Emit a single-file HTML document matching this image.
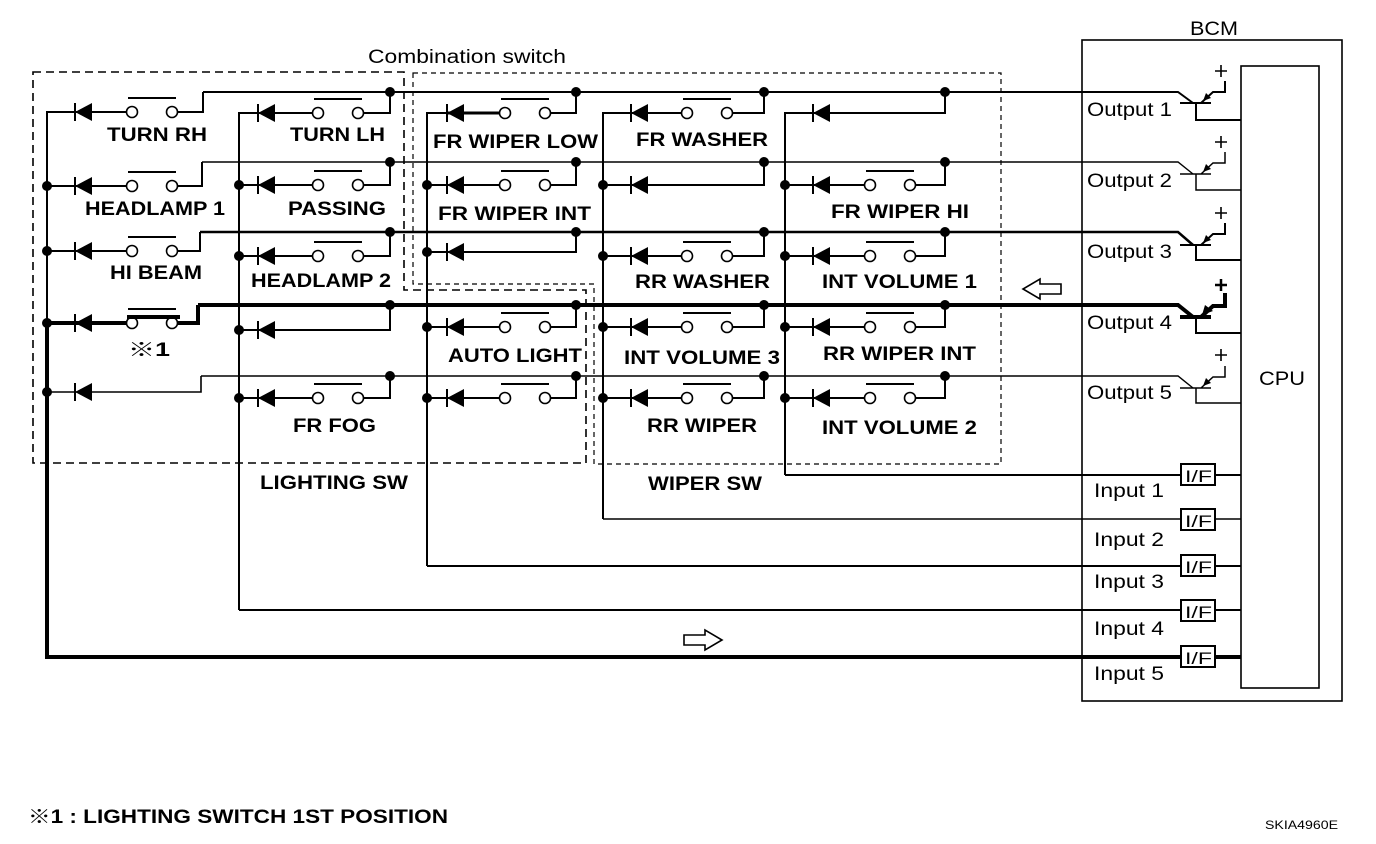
<!DOCTYPE html>
<html><head><meta charset="utf-8"><style>
html,body{margin:0;padding:0;background:#fff;}
svg{display:block;}
text{font-family:"Liberation Sans","Noto Sans CJK JP",sans-serif;fill:#000;}
.l{font-size:19px;font-weight:bold;}
.n{font-size:19px;}
</style></head><body>
<svg width="1376" height="844" viewBox="0 0 1376 844" xmlns="http://www.w3.org/2000/svg">
<defs>
<g id="d"><line x1="0" y1="-9" x2="0" y2="9" stroke="#000" stroke-width="2"/><polygon points="0,0 17,-9 17,9" fill="#000"/></g>
<g id="s"><line x1="-4" y1="-14" x2="44" y2="-14" stroke="#000" stroke-width="2"/><line x1="5" y1="0" x2="35" y2="0" stroke="#fff" stroke-width="4"/><circle cx="0" cy="0" r="5.5" fill="#fff" stroke="#000" stroke-width="1.6"/><circle cx="40" cy="0" r="5.5" fill="#fff" stroke="#000" stroke-width="1.6"/></g>
</defs>

<path d="M33,72 H404 V290 H586 V463 H33 Z" fill="none" stroke="#000" stroke-width="1.6" stroke-dasharray="8,5"/>
<path d="M413,73 H1001 V464 H594 V284 H413 Z" fill="none" stroke="#000" stroke-width="1.2" stroke-dasharray="5,4"/>

<rect x="1082" y="40" width="260" height="661" fill="none" stroke="#000" stroke-width="1.6"/>
<rect x="1241" y="66" width="78" height="622" fill="none" stroke="#000" stroke-width="1.6"/>

<g fill="none" stroke="#000" stroke-linejoin="miter">
<path d="M203,92 H1178 L1193,103" stroke-width="2"/>
<path d="M202,162 H1178 L1193,174" stroke-width="1.4"/>
<path d="M200,232 H1178 L1193,245" stroke-width="2.5"/>
<path d="M198,305 H1178 L1193,317" stroke-width="4"/>
<path d="M201,376 H1178 L1193,388" stroke-width="1.4"/>

<path d="M47,323 V112 H127 M177,112 H203 V92" stroke-width="2"/>
<path d="M47,186 H127 M177,186 H202 V162" stroke-width="2"/>
<path d="M47,251 H127 M177,251 H200 V232" stroke-width="2"/>
<path d="M47,323 H127 M177,323 H198 V305" stroke-width="4"/>
<path d="M47,392 H201 V376" stroke-width="1.6"/>
<path d="M47,323 V657 H1181" stroke-width="4"/>

<path d="M239,610 V113 H313 M363,113 H390 V92" stroke-width="2"/>
<path d="M239,185 H313 M363,185 H390 V162" stroke-width="2"/>
<path d="M239,256 H313 M363,256 H390 V232" stroke-width="2"/>
<path d="M239,330 H390 V305" stroke-width="2"/>
<path d="M239,398 H313 M363,398 H390 V376" stroke-width="2"/>
<path d="M239,610 H1181" stroke-width="2"/>

<path d="M427,566 V113 H500 M548,113 H576 V92" stroke-width="2"/>
<path d="M447,113 H500" stroke-width="3"/>
<path d="M427,185 H500 M548,185 H576 V162" stroke-width="2"/>
<path d="M427,252 H576 V232" stroke-width="2"/>
<path d="M427,327 H500 M548,327 H576 V305" stroke-width="2"/>
<path d="M427,398 H500 M548,398 H576 V376" stroke-width="2"/>
<path d="M427,566 H1181" stroke-width="2"/>

<path d="M603,519 V113 H682 M732,113 H764 V92" stroke-width="2"/>
<path d="M603,185 H764 V162" stroke-width="2"/>
<path d="M603,256 H682 M732,256 H764 V232" stroke-width="2"/>
<path d="M603,327 H682 M732,327 H764 V305" stroke-width="2"/>
<path d="M603,398 H682 M732,398 H764 V376" stroke-width="2"/>
<path d="M603,519 H1181" stroke-width="1.4"/>

<path d="M785,475 V113 H945 V92" stroke-width="2"/>
<path d="M785,185 H865 M915,185 H945 V162" stroke-width="2"/>
<path d="M785,256 H865 M915,256 H945 V232" stroke-width="2"/>
<path d="M785,327 H865 M915,327 H945 V305" stroke-width="2"/>
<path d="M785,398 H865 M915,398 H945 V376" stroke-width="2"/>
<path d="M785,475 H1181" stroke-width="2"/>

<g stroke-width="2">
<path d="M1180,103 H1211 M1196,103 V120 H1241 M1201,103 L1213,92 H1225 V81"/>
<path d="M1180,174 H1211 M1196,174 V190 H1241 M1201,174 L1213,163 H1225 V152" stroke-width="1.5"/>
<path d="M1180,245 H1211 M1196,245 V260 H1241 M1201,245 L1213,234 H1225 V223"/>
<path d="M1180,317 H1211 M1201,317 L1213,306 H1225 V293" stroke-width="4"/>
<path d="M1196,317 V333 H1241"/>
<path d="M1180,388 H1211 M1196,388 V403 H1241 M1201,388 L1213,377 H1225 V366" stroke-width="1.5"/>
</g>
<g stroke-width="1.6">
<path d="M1221,65 V77 M1215,71 H1227"/>
<path d="M1221,136 V148 M1215,142 H1227"/>
<path d="M1221,207 V219 M1215,213 H1227"/>
<path d="M1221,279 V291 M1215,285 H1227" stroke-width="2.5"/>
<path d="M1221,349 V361 M1215,355 H1227"/>
</g>

<g stroke-width="2">
<rect x="1181" y="464" width="34" height="21"/><path d="M1215,475 H1241"/>
<rect x="1181" y="509" width="34" height="21"/><path d="M1215,519 H1241" stroke-width="1.4"/>
<rect x="1181" y="555" width="34" height="21"/><path d="M1215,566 H1241"/>
<rect x="1181" y="600" width="34" height="21"/><path d="M1215,610 H1241"/>
<rect x="1181" y="646" width="34" height="21"/><path d="M1215,657 H1241" stroke-width="4"/>
</g>

<path d="M1061,284 H1040 V279 L1023,289 L1040,299 V294 H1061 Z" stroke-width="1.6" fill="#fff"/>
<path d="M684,635 H705 V630 L722,640 L705,650 V645 H684 Z" stroke-width="1.6" fill="#fff"/>
</g>

<g fill="#000">
<polygon points="1203,101 1206,93 1211,98"/>
<polygon points="1203,172 1206,164 1211,169"/>
<polygon points="1203,243 1206,235 1211,240"/>
<polygon points="1202,315 1205,305 1213,311"/>
<polygon points="1203,386 1206,378 1211,383"/>
</g>

<use href="#d" x="75" y="112"/><use href="#d" x="75" y="186"/><use href="#d" x="75" y="251"/><use href="#d" x="75" y="323"/><use href="#d" x="75" y="392"/>
<use href="#d" x="258" y="113"/><use href="#d" x="258" y="185"/><use href="#d" x="258" y="256"/><use href="#d" x="258" y="330"/><use href="#d" x="258" y="398"/>
<use href="#d" x="447" y="113"/><use href="#d" x="447" y="185"/><use href="#d" x="447" y="252"/><use href="#d" x="447" y="327"/><use href="#d" x="447" y="398"/>
<use href="#d" x="631" y="113"/><use href="#d" x="631" y="185"/><use href="#d" x="631" y="256"/><use href="#d" x="631" y="327"/><use href="#d" x="631" y="398"/>
<use href="#d" x="813" y="113"/><use href="#d" x="813" y="185"/><use href="#d" x="813" y="256"/><use href="#d" x="813" y="327"/><use href="#d" x="813" y="398"/>

<use href="#s" x="132" y="112"/><use href="#s" x="132" y="186"/><use href="#s" x="132" y="251"/><use href="#s" x="132" y="323"/>
<line x1="127" y1="317" x2="180" y2="317" stroke="#000" stroke-width="4"/>
<use href="#s" x="318" y="113"/><use href="#s" x="318" y="185"/><use href="#s" x="318" y="256"/><use href="#s" x="318" y="398"/>
<use href="#s" x="505" y="113"/><use href="#s" x="505" y="185"/><use href="#s" x="505" y="327"/><use href="#s" x="505" y="398"/>
<use href="#s" x="687" y="113"/><use href="#s" x="687" y="256"/><use href="#s" x="687" y="327"/><use href="#s" x="687" y="398"/>
<use href="#s" x="870" y="185"/><use href="#s" x="870" y="256"/><use href="#s" x="870" y="327"/><use href="#s" x="870" y="398"/>

<g fill="#000">
<circle cx="47" cy="186" r="5"/><circle cx="47" cy="251" r="5"/><circle cx="47" cy="323" r="5"/><circle cx="47" cy="392" r="5"/>
<circle cx="239" cy="185" r="5"/><circle cx="239" cy="256" r="5"/><circle cx="239" cy="330" r="5"/><circle cx="239" cy="398" r="5"/>
<circle cx="427" cy="185" r="5"/><circle cx="427" cy="252" r="5"/><circle cx="427" cy="327" r="5"/><circle cx="427" cy="398" r="5"/>
<circle cx="603" cy="185" r="5"/><circle cx="603" cy="256" r="5"/><circle cx="603" cy="327" r="5"/><circle cx="603" cy="398" r="5"/>
<circle cx="785" cy="185" r="5"/><circle cx="785" cy="256" r="5"/><circle cx="785" cy="327" r="5"/><circle cx="785" cy="398" r="5"/>
<circle cx="390" cy="92" r="5"/><circle cx="576" cy="92" r="5"/><circle cx="764" cy="92" r="5"/><circle cx="945" cy="92" r="5"/>
<circle cx="390" cy="162" r="5"/><circle cx="576" cy="162" r="5"/><circle cx="764" cy="162" r="5"/><circle cx="945" cy="162" r="5"/>
<circle cx="390" cy="232" r="5"/><circle cx="576" cy="232" r="5"/><circle cx="764" cy="232" r="5"/><circle cx="945" cy="232" r="5"/>
<circle cx="390" cy="305" r="5"/><circle cx="576" cy="305" r="5"/><circle cx="764" cy="305" r="5"/><circle cx="945" cy="305" r="5"/>
<circle cx="390" cy="376" r="5"/><circle cx="576" cy="376" r="5"/><circle cx="764" cy="376" r="5"/><circle cx="945" cy="376" r="5"/>
</g>

<g class="l">
<text x="107" y="141" textLength="100" lengthAdjust="spacingAndGlyphs">TURN RH</text>
<text x="290" y="141" textLength="95" lengthAdjust="spacingAndGlyphs">TURN LH</text>
<text x="85" y="215" textLength="140" lengthAdjust="spacingAndGlyphs">HEADLAMP 1</text>
<text x="288" y="215" textLength="98" lengthAdjust="spacingAndGlyphs">PASSING</text>
<text x="110" y="279" textLength="92" lengthAdjust="spacingAndGlyphs">HI BEAM</text>
<text x="251" y="287" textLength="140" lengthAdjust="spacingAndGlyphs">HEADLAMP 2</text>
<text x="128" y="356" textLength="42" lengthAdjust="spacingAndGlyphs">※1</text>
<text x="293" y="432" textLength="83" lengthAdjust="spacingAndGlyphs">FR FOG</text>
<text x="433" y="148" textLength="165" lengthAdjust="spacingAndGlyphs">FR WIPER LOW</text>
<text x="438" y="220" textLength="153" lengthAdjust="spacingAndGlyphs">FR WIPER INT</text>
<text x="448" y="362" textLength="134" lengthAdjust="spacingAndGlyphs">AUTO LIGHT</text>
<text x="636" y="146" textLength="132" lengthAdjust="spacingAndGlyphs">FR WASHER</text>
<text x="635" y="288" textLength="135" lengthAdjust="spacingAndGlyphs">RR WASHER</text>
<text x="624" y="364" textLength="156" lengthAdjust="spacingAndGlyphs">INT VOLUME 3</text>
<text x="647" y="432" textLength="110" lengthAdjust="spacingAndGlyphs">RR WIPER</text>
<text x="831" y="218" textLength="138" lengthAdjust="spacingAndGlyphs">FR WIPER HI</text>
<text x="822" y="288" textLength="155" lengthAdjust="spacingAndGlyphs">INT VOLUME 1</text>
<text x="823" y="360" textLength="153" lengthAdjust="spacingAndGlyphs">RR WIPER INT</text>
<text x="822" y="434" textLength="155" lengthAdjust="spacingAndGlyphs">INT VOLUME 2</text>
<text x="260" y="489" textLength="148" lengthAdjust="spacingAndGlyphs">LIGHTING SW</text>
<text x="648" y="490" textLength="114" lengthAdjust="spacingAndGlyphs">WIPER SW</text>
<text x="28" y="823" textLength="420" lengthAdjust="spacingAndGlyphs">※1 : LIGHTING SWITCH 1ST POSITION</text>
</g>
<g class="n">
<text x="368" y="63" textLength="198" lengthAdjust="spacingAndGlyphs">Combination switch</text>
<text x="1190" y="35" textLength="48" lengthAdjust="spacingAndGlyphs">BCM</text>
<text x="1087" y="116" textLength="85" lengthAdjust="spacingAndGlyphs">Output 1</text>
<text x="1087" y="187" textLength="85" lengthAdjust="spacingAndGlyphs">Output 2</text>
<text x="1087" y="258" textLength="85" lengthAdjust="spacingAndGlyphs">Output 3</text>
<text x="1087" y="329" textLength="85" lengthAdjust="spacingAndGlyphs">Output 4</text>
<text x="1087" y="399" textLength="85" lengthAdjust="spacingAndGlyphs">Output 5</text>
<text x="1094" y="497" textLength="70" lengthAdjust="spacingAndGlyphs">Input 1</text>
<text x="1094" y="546" textLength="70" lengthAdjust="spacingAndGlyphs">Input 2</text>
<text x="1094" y="588" textLength="70" lengthAdjust="spacingAndGlyphs">Input 3</text>
<text x="1094" y="635" textLength="70" lengthAdjust="spacingAndGlyphs">Input 4</text>
<text x="1094" y="680" textLength="70" lengthAdjust="spacingAndGlyphs">Input 5</text>
<text x="1259" y="385" textLength="46" lengthAdjust="spacingAndGlyphs">CPU</text>
<text x="1185" y="482" style="font-size:17px" textLength="27" lengthAdjust="spacingAndGlyphs">I/F</text>
<text x="1185" y="527" style="font-size:17px" textLength="27" lengthAdjust="spacingAndGlyphs">I/F</text>
<text x="1185" y="573" style="font-size:17px" textLength="27" lengthAdjust="spacingAndGlyphs">I/F</text>
<text x="1185" y="618" style="font-size:17px" textLength="27" lengthAdjust="spacingAndGlyphs">I/F</text>
<text x="1185" y="664" style="font-size:17px" textLength="27" lengthAdjust="spacingAndGlyphs">I/F</text>
<text x="1265" y="829" style="font-size:12px" textLength="73" lengthAdjust="spacingAndGlyphs">SKIA4960E</text>
</g>
</svg>
</body></html>
